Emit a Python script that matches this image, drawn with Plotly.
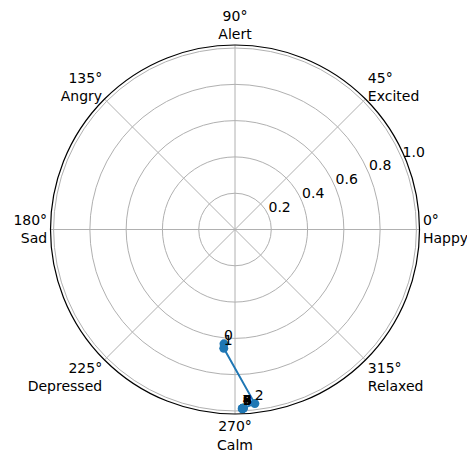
import plotly.graph_objects as go

# Data
point_ids = ["0", "1", "2", "3", "4", "5", "6", "7", "8", "9"]
theta_deg = [264.5, 264.6, 276.5, 272.6, 272.4, 272.7, 272.5, 272.3, 272.6, 272.5]
radius = [0.633, 0.658, 0.966, 0.986, 0.988, 0.985, 0.987, 0.989, 0.986, 0.987]

angle_ticks = [0, 45, 90, 135, 180, 225, 270, 315]
emotion_names = ["Happy", "Excited", "Alert", "Angry", "Sad", "Depressed", "Calm", "Relaxed"]
radial_ticks = [0.2, 0.4, 0.6, 0.8, 1.0]
radial_labels = ["0.2", "0.4", "0.6", "0.8", "1.0"]

angle_labels = [f"{a}°<br>{n}" for a, n in zip(angle_ticks, emotion_names)]

FONT = "DejaVu Sans"
BLUE = "#1f77b4"
GRID = "#b0b0b0"
R_MAX = 1.017
LABEL_ANGLE = 22.5

fig = go.Figure()
fig.add_trace(go.Scatterpolar(
    r=radius,
    theta=theta_deg,
    mode="lines+markers",
    line=dict(color=BLUE, width=2),
    marker=dict(color=BLUE, size=9),
    showlegend=False,
    cliponaxis=False,
    hoverinfo="skip",
))

# point index annotations (bottom-left of text at the point)
fig.add_trace(go.Scatterpolar(
    r=radius,
    theta=theta_deg,
    mode="text",
    text=point_ids,
    textposition="top right",
    textfont=dict(family=FONT, size=14, color="black"),
    showlegend=False,
    cliponaxis=False,
    hoverinfo="skip",
))

# radial tick labels, placed like matplotlib's (bottom-left at the tick)
fig.add_trace(go.Scatterpolar(
    r=radial_ticks,
    theta=[LABEL_ANGLE] * len(radial_ticks),
    mode="text",
    text=radial_labels,
    textposition="top right",
    textfont=dict(family=FONT, size=14, color="black"),
    showlegend=False,
    cliponaxis=False,
    hoverinfo="skip",
))

fig.update_layout(
    width=467,
    height=450,
    paper_bgcolor="white",
    margin=dict(l=42, r=55, t=37, b=44),
    font=dict(family=FONT, size=14, color="black"),
    polar=dict(
        bgcolor="white",
        domain=dict(x=[0, 1], y=[0, 1]),
        angularaxis=dict(
            rotation=0,
            direction="counterclockwise",
            tickmode="array",
            tickvals=angle_ticks,
            ticktext=angle_labels,
            showline=True,
            linecolor="black",
            linewidth=1.2,
            showgrid=True,
            gridcolor=GRID,
            gridwidth=1,
            ticks="",
            tickfont=dict(family=FONT, size=14, color="black"),
        ),
        radialaxis=dict(
            range=[0, R_MAX],
            angle=LABEL_ANGLE,
            tickmode="array",
            tickvals=radial_ticks,
            ticktext=radial_labels,
            showticklabels=False,
            showline=False,
            showgrid=True,
            gridcolor=GRID,
            gridwidth=1,
            ticks="",
        ),
    ),
)

fig.write_html("out.html")
